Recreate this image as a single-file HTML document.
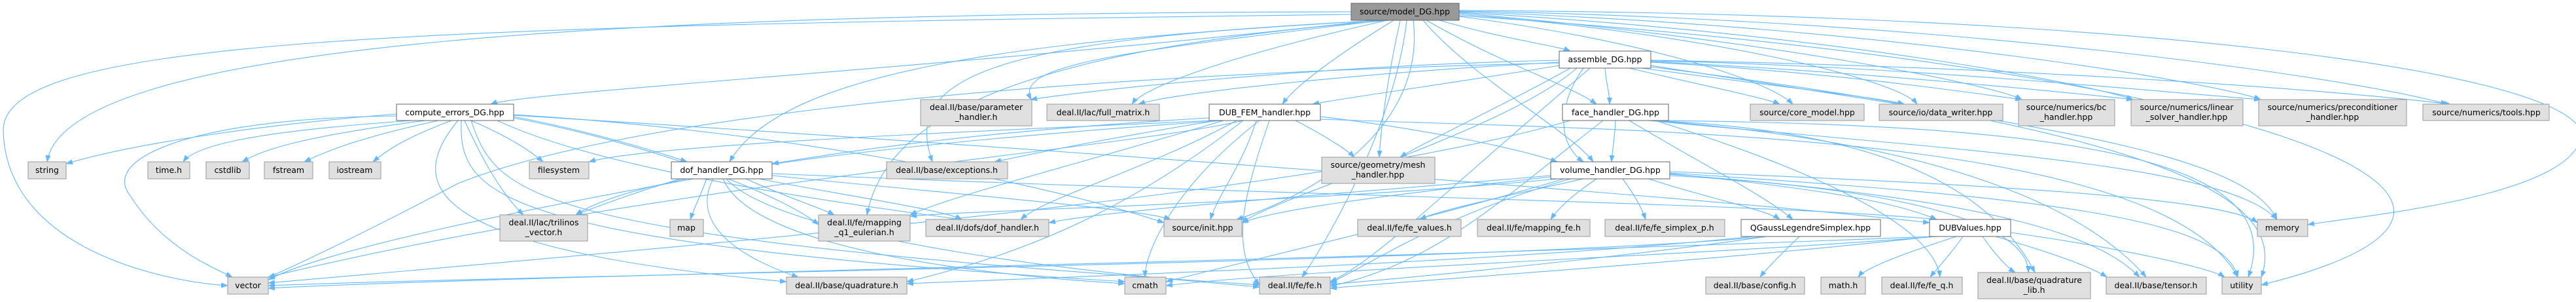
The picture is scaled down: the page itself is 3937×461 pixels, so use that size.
<!DOCTYPE html>
<html><head><meta charset="utf-8"><style>
html,body{margin:0;padding:0;background:#fff;width:3937px;height:461px;overflow:hidden}
svg{display:block}
text{font-family:"DejaVu Sans","Liberation Sans",sans-serif;font-size:12.5px;fill:#000;text-anchor:middle}
.g{fill:#e0e0e0;stroke:#999;stroke-width:1}
.w{fill:#fff;stroke:#666;stroke-width:1}
.r{fill:#999;stroke:#666;stroke-width:1}
.e path{fill:none;stroke:#63b8ff;stroke-width:1.1}
</style></head><body>
<svg width="3937" height="461" viewBox="0 0 3937 461" xmlns="http://www.w3.org/2000/svg">
<defs><marker id="a" markerWidth="11" markerHeight="8" refX="10" refY="4" orient="auto" markerUnits="userSpaceOnUse"><path d="M0,0 L11,4 L0,8 z" fill="#63b8ff"/></marker></defs>
<g class="e" marker-end="url(#a)">
<path marker-end="url(#a)" d="M2065 18 C1000 20 100 60 72 247"/>
<path marker-end="url(#a)" d="M2065 22 C600 40 0 60 5 200 C10 380 250 430 348 436"/>
<path marker-end="url(#a)" d="M2100 31 C1500 100 800 140 750 159"/>
<path marker-end="url(#a)" d="M2110 31 C1600 60 1200 100 1115 247"/>
<path marker-end="url(#a)" d="M2115 31 C1700 80 1550 100 1576 152"/>
<path marker-end="url(#a)" d="M2120 31 C1900 80 1750 130 1730 159"/>
<path marker-end="url(#a)" d="M2130 31 C2050 80 1980 130 1960 159"/>
<path marker-end="url(#a)" d="M2118 31 C1500 60 1380 120 1425 247"/>
<path marker-end="url(#a)" d="M2125 31 C1500 80 1350 200 1325 328"/>
<path marker-end="url(#a)" d="M2140 31 C2120 120 2110 200 2108 240"/>
<path marker-end="url(#a)" d="M2200 31 C2300 60 2380 70 2400 78"/>
<path marker-end="url(#a)" d="M2180 31 C2300 100 2400 130 2440 159"/>
<path marker-end="url(#a)" d="M2175 31 C2250 120 2400 200 2435 247"/>
<path marker-end="url(#a)" d="M2230 25 C2500 60 2700 120 2740 159"/>
<path marker-end="url(#a)" d="M2230 22 C2600 50 2900 120 2930 159"/>
<path marker-end="url(#a)" d="M2230 20 C2700 60 3050 130 3090 152"/>
<path marker-end="url(#a)" d="M2230 19 C2800 50 3200 130 3260 152"/>
<path marker-end="url(#a)" d="M2230 18 C2900 40 3400 130 3455 152"/>
<path marker-end="url(#a)" d="M2230 17 C3000 30 3600 120 3740 159"/>
<path marker-end="url(#a)" d="M2230 16 C3200 20 3900 100 3945 200 C3950 300 3600 330 3527 343"/>
<path marker-end="url(#a)" d="M2160 31 C2180 200 2000 300 1890 335"/>
<path marker-end="url(#a)" d="M2150 31 C2130 200 2020 380 1990 423"/>
<path marker-end="url(#a)" d="M2383 100 C2200 130 2050 150 2006 159"/>
<path marker-end="url(#a)" d="M2453 104 C2455 130 2460 140 2460 159"/>
<path marker-end="url(#a)" d="M2420 104 C2380 160 2380 220 2420 247"/>
<path marker-end="url(#a)" d="M2400 104 C2300 160 2170 220 2140 240"/>
<path marker-end="url(#a)" d="M2490 104 C2600 130 2700 150 2720 159"/>
<path marker-end="url(#a)" d="M2510 104 C2700 130 2880 150 2910 159"/>
<path marker-end="url(#a)" d="M2523 95 C2800 110 3000 140 3090 152"/>
<path marker-end="url(#a)" d="M2523 94 C2850 110 3150 140 3260 152"/>
<path marker-end="url(#a)" d="M2523 93 C2900 100 3300 140 3455 152"/>
<path marker-end="url(#a)" d="M2523 92 C3000 100 3500 130 3745 159"/>
<path marker-end="url(#a)" d="M2383 92 C2000 100 1650 140 1575 152"/>
<path marker-end="url(#a)" d="M2383 95 C2100 110 1800 140 1740 159"/>
<path marker-end="url(#a)" d="M2383 96 C1400 120 900 200 700 280 C550 360 420 420 410 423"/>
<path marker-end="url(#a)" d="M2523 100 C3100 190 3430 230 3480 335"/>
<path marker-end="url(#a)" d="M2523 102 C3300 200 3500 300 3456 423"/>
<path marker-end="url(#a)" d="M2430 104 C2200 300 2100 400 2033 430"/>
<path marker-end="url(#a)" d="M2410 104 C2300 200 1950 300 1898 340"/>
<path marker-end="url(#a)" d="M606 174 C400 190 200 220 101 250"/>
<path marker-end="url(#a)" d="M630 184 C400 200 300 220 280 247"/>
<path marker-end="url(#a)" d="M650 184 C450 210 400 230 370 247"/>
<path marker-end="url(#a)" d="M670 184 C550 210 500 230 465 247"/>
<path marker-end="url(#a)" d="M690 184 C620 210 590 230 570 247"/>
<path marker-end="url(#a)" d="M720 184 C780 210 810 230 830 247"/>
<path marker-end="url(#a)" d="M710 184 C740 250 770 300 800 328"/>
<path marker-end="url(#a)" d="M606 177 C300 180 150 240 200 300 C250 380 330 410 355 423"/>
<path marker-end="url(#a)" d="M785 180 C1000 220 1200 300 1251 343"/>
<path marker-end="url(#a)" d="M760 184 C900 250 1200 300 1470 335"/>
<path marker-end="url(#a)" d="M700 184 C620 280 640 380 1202 430"/>
<path marker-end="url(#a)" d="M705 184 C700 300 760 370 1719 430"/>
<path marker-end="url(#a)" d="M720 184 C760 300 800 360 1925 435"/>
<path marker-end="url(#a)" d="M785 178 C900 200 1000 230 1050 247"/>
<path marker-end="url(#a)" d="M785 175 C1200 200 1600 280 1779 340"/>
<path marker-end="url(#a)" d="M785 176 C1500 220 2600 300 2949 340"/>
<path marker-end="url(#a)" d="M1848 180 C1500 200 1300 230 1180 250"/>
<path marker-end="url(#a)" d="M1860 184 C1700 210 1600 230 1520 247"/>
<path marker-end="url(#a)" d="M1870 184 C1650 250 1450 300 1391 328"/>
<path marker-end="url(#a)" d="M1890 184 C1750 260 1600 300 1560 335"/>
<path marker-end="url(#a)" d="M1920 184 C1900 250 1860 300 1850 335"/>
<path marker-end="url(#a)" d="M1925 184 C1800 280 1750 380 1750 423"/>
<path marker-end="url(#a)" d="M1940 184 C1900 300 1880 380 1925 435"/>
<path marker-end="url(#a)" d="M1900 184 C1750 300 1600 380 1386 430"/>
<path marker-end="url(#a)" d="M2018 178 C2200 200 2330 230 2380 247"/>
<path marker-end="url(#a)" d="M1980 184 C2030 210 2060 230 2070 240"/>
<path marker-end="url(#a)" d="M1870 184 C1200 230 950 280 880 328"/>
<path marker-end="url(#a)" d="M1855 184 C1500 200 1000 220 900 247"/>
<path marker-end="url(#a)" d="M1900 184 C1700 230 1000 280 410 423"/>
<path marker-end="url(#a)" d="M2018 182 C2500 200 3300 200 3420 423"/>
<path marker-end="url(#a)" d="M1080 273 C1070 300 1060 320 1055 335"/>
<path marker-end="url(#a)" d="M1140 273 C1200 300 1260 320 1275 328"/>
<path marker-end="url(#a)" d="M1160 273 C1300 300 1440 320 1470 335"/>
<path marker-end="url(#a)" d="M1180 268 C1500 300 1750 320 1789 335"/>
<path marker-end="url(#a)" d="M1090 273 C1050 350 1150 400 1220 423"/>
<path marker-end="url(#a)" d="M1105 273 C1150 380 1500 420 1719 433"/>
<path marker-end="url(#a)" d="M1110 273 C1200 370 1700 420 1925 438"/>
<path marker-end="url(#a)" d="M1060 273 C800 320 500 380 410 427"/>
<path marker-end="url(#a)" d="M1040 273 C950 300 900 320 880 328"/>
<path marker-end="url(#a)" d="M1180 265 C2000 300 2700 310 2960 335"/>
<path marker-end="url(#a)" d="M2469 184 C2468 210 2464 230 2463 247"/>
<path marker-end="url(#a)" d="M2490 184 C2600 250 2700 300 2740 335"/>
<path marker-end="url(#a)" d="M2520 184 C3000 230 3400 250 3480 335"/>
<path marker-end="url(#a)" d="M2530 184 C3200 190 3500 250 3436 423"/>
<path marker-end="url(#a)" d="M2525 184 C2900 200 3050 300 3110 416"/>
<path marker-end="url(#a)" d="M2525 184 C3000 220 3200 330 3280 423"/>
<path marker-end="url(#a)" d="M2530 184 C2900 300 2960 380 2965 423"/>
<path marker-end="url(#a)" d="M2450 184 C2300 300 2200 400 2033 437"/>
<path marker-end="url(#a)" d="M2400 184 C2000 300 1000 380 410 432"/>
<path marker-end="url(#a)" d="M2420 273 C2300 300 2200 320 2170 335"/>
<path marker-end="url(#a)" d="M2440 273 C2400 300 2380 320 2370 335"/>
<path marker-end="url(#a)" d="M2480 273 C2500 300 2510 320 2515 335"/>
<path marker-end="url(#a)" d="M2520 273 C2600 300 2700 320 2720 335"/>
<path marker-end="url(#a)" d="M2552 265 C2800 290 2900 310 2960 335"/>
<path marker-end="url(#a)" d="M2370 270 C2100 300 1950 320 1898 340"/>
<path marker-end="url(#a)" d="M2370 268 C2000 300 1700 320 1603 340"/>
<path marker-end="url(#a)" d="M2380 273 C2000 310 1500 320 1391 330"/>
<path marker-end="url(#a)" d="M2552 262 C3000 280 3400 300 3450 340"/>
<path marker-end="url(#a)" d="M2552 264 C3100 300 3400 330 3420 423"/>
<path marker-end="url(#a)" d="M2552 266 C3000 300 3200 350 3270 423"/>
<path marker-end="url(#a)" d="M2552 268 C2950 290 3100 350 3100 416"/>
<path marker-end="url(#a)" d="M2400 273 C2200 330 2100 400 2033 432"/>
<path marker-end="url(#a)" d="M2390 273 C2200 330 1900 400 1782 430"/>
<path marker-end="url(#a)" d="M2750 361 C2720 390 2700 410 2690 423"/>
<path marker-end="url(#a)" d="M2700 361 C2300 400 800 420 410 436"/>
<path marker-end="url(#a)" d="M2680 361 C2300 400 1700 420 1386 433"/>
<path marker-end="url(#a)" d="M2700 361 C2500 390 2200 420 2033 434"/>
<path marker-end="url(#a)" d="M2990 361 C2900 390 2850 410 2840 423"/>
<path marker-end="url(#a)" d="M3000 361 C2980 390 2960 410 2950 423"/>
<path marker-end="url(#a)" d="M3030 361 C3050 390 3070 410 3080 416"/>
<path marker-end="url(#a)" d="M3050 361 C3150 390 3200 410 3220 423"/>
<path marker-end="url(#a)" d="M3073 355 C3250 380 3380 410 3400 423"/>
<path marker-end="url(#a)" d="M2960 361 C2600 390 2000 410 1782 436"/>
<path marker-end="url(#a)" d="M2955 361 C2600 400 2200 425 2033 440"/>
<path marker-end="url(#a)" d="M2950 361 C2000 400 800 420 410 440"/>
<path marker-end="url(#a)" d="M2230 24 C3400 100 4000 300 3456 435"/>
</g>
<g>
<rect class="r" x="2065" y="5" width="165" height="26"/><text x="2147" y="22">source/model_DG.hpp</text>
<rect class="w" x="2383" y="78" width="140" height="26"/><text x="2453" y="95">assemble_DG.hpp</text>
<rect class="w" x="606" y="159" width="179" height="25"/><text x="695" y="176">compute_errors_DG.hpp</text>
<rect class="g" x="1407" y="152" width="170" height="40"/><text x="1492" y="168">deal.II/base/parameter</text><text x="1492" y="183">_handler.h</text>
<rect class="g" x="1600" y="159" width="172" height="25"/><text x="1686" y="176">deal.II/lac/full_matrix.h</text>
<rect class="w" x="1848" y="159" width="170" height="25"/><text x="1933" y="176">DUB_FEM_handler.hpp</text>
<rect class="w" x="2388" y="159" width="162" height="25"/><text x="2469" y="176">face_handler_DG.hpp</text>
<rect class="g" x="2675" y="159" width="174" height="25"/><text x="2762" y="176">source/core_model.hpp</text>
<rect class="g" x="2872" y="159" width="189" height="25"/><text x="2966" y="176">source/io/data_writer.hpp</text>
<rect class="g" x="3085" y="152" width="147" height="40"/><text x="3158" y="168">source/numerics/bc</text><text x="3158" y="183">_handler.hpp</text>
<rect class="g" x="3257" y="152" width="171" height="40"/><text x="3342" y="168">source/numerics/linear</text><text x="3342" y="183">_solver_handler.hpp</text>
<rect class="g" x="3452" y="152" width="226" height="40"/><text x="3565" y="168">source/numerics/preconditioner</text><text x="3565" y="183">_handler.hpp</text>
<rect class="g" x="3703" y="159" width="193" height="25"/><text x="3800" y="176">source/numerics/tools.hpp</text>
<rect class="g" x="43" y="247" width="58" height="26"/><text x="72" y="264">string</text>
<rect class="g" x="226" y="247" width="64" height="26"/><text x="258" y="264">time.h</text>
<rect class="g" x="315" y="247" width="66" height="26"/><text x="348" y="264">cstdlib</text>
<rect class="g" x="404" y="247" width="74" height="26"/><text x="441" y="264">fstream</text>
<rect class="g" x="503" y="247" width="79" height="26"/><text x="542" y="264">iostream</text>
<rect class="g" x="809" y="247" width="91" height="26"/><text x="854" y="264">filesystem</text>
<rect class="w" x="1026" y="247" width="154" height="26"/><text x="1103" y="264">dof_handler_DG.hpp</text>
<rect class="g" x="1355" y="247" width="185" height="26"/><text x="1447" y="264">deal.II/base/exceptions.h</text>
<rect class="g" x="2020" y="240" width="173" height="40"/><text x="2106" y="256">source/geometry/mesh</text><text x="2106" y="271">_handler.hpp</text>
<rect class="w" x="2370" y="247" width="182" height="26"/><text x="2461" y="264">volume_handler_DG.hpp</text>
<rect class="g" x="764" y="328" width="134" height="40"/><text x="831" y="344">deal.II/lac/trilinos</text><text x="831" y="359">_vector.h</text>
<rect class="g" x="1024" y="335" width="51" height="26"/><text x="1049" y="352">map</text>
<rect class="g" x="1251" y="328" width="140" height="40"/><text x="1321" y="344">deal.II/fe/mapping</text><text x="1321" y="359">_q1_eulerian.h</text>
<rect class="g" x="1415" y="335" width="188" height="26"/><text x="1509" y="352">deal.II/dofs/dof_handler.h</text>
<rect class="g" x="1779" y="335" width="119" height="26"/><text x="1838" y="352">source/init.hpp</text>
<rect class="g" x="2075" y="335" width="158" height="26"/><text x="2154" y="352">deal.II/fe/fe_values.h</text>
<rect class="g" x="2258" y="335" width="172" height="26"/><text x="2344" y="352">deal.II/fe/mapping_fe.h</text>
<rect class="g" x="2453" y="335" width="183" height="26"/><text x="2544" y="352">deal.II/fe/fe_simplex_p.h</text>
<rect class="w" x="2661" y="335" width="213" height="26"/><text x="2767" y="352">QGaussLegendreSimplex.hpp</text>
<rect class="w" x="2949" y="335" width="124" height="26"/><text x="3011" y="352">DUBValues.hpp</text>
<rect class="g" x="3450" y="335" width="77" height="26"/><text x="3488" y="352">memory</text>
<rect class="g" x="348" y="423" width="62" height="26"/><text x="379" y="440">vector</text>
<rect class="g" x="1202" y="423" width="184" height="26"/><text x="1294" y="440">deal.II/base/quadrature.h</text>
<rect class="g" x="1719" y="423" width="63" height="26"/><text x="1750" y="440">cmath</text>
<rect class="g" x="1925" y="423" width="108" height="26"/><text x="1979" y="440">deal.II/fe/fe.h</text>
<rect class="g" x="2607" y="423" width="151" height="26"/><text x="2682" y="440">deal.II/base/config.h</text>
<rect class="g" x="2783" y="423" width="68" height="26"/><text x="2817" y="440">math.h</text>
<rect class="g" x="2876" y="423" width="123" height="26"/><text x="2937" y="440">deal.II/fe/fe_q.h</text>
<rect class="g" x="3023" y="416" width="172" height="40"/><text x="3109" y="432">deal.II/base/quadrature</text><text x="3109" y="447">_lib.h</text>
<rect class="g" x="3219" y="423" width="153" height="26"/><text x="3295" y="440">deal.II/base/tensor.h</text>
<rect class="g" x="3396" y="423" width="60" height="26"/><text x="3426" y="440">utility</text>
</g>
</svg>
</body></html>
